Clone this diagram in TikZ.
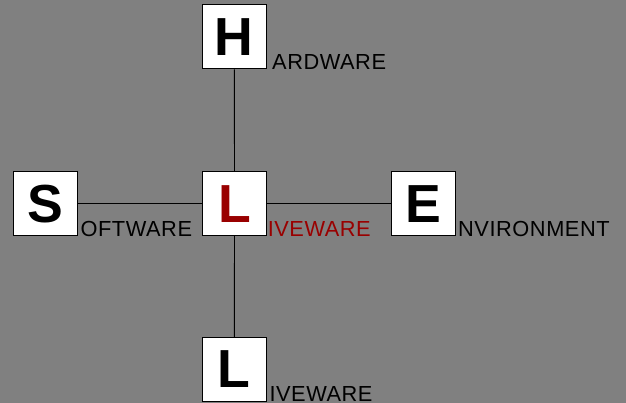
\documentclass[tikz,border=0pt]{standalone}
\usepackage{fontspec}
\setmainfont{Liberation Sans}
\newfontfamily\wordfont[LetterSpace=2.5]{Liberation Sans}
\definecolor{bg}{RGB}{128,128,128}
\definecolor{lred}{RGB}{153,0,0}
\tikzset{
  letterbox/.style={draw=black, line width=1pt, fill=white, minimum width=64pt, minimum height=64pt, inner sep=0pt, font=\fontsize{53.6pt}{54pt}\selectfont\bfseries},
  wordlabel/.style={anchor=base west, inner sep=0pt, font=\wordfont\fontsize{21.8pt}{23pt}\selectfont},
  link/.style={draw=black, line width=0.9pt}
}
\begin{document}
\begin{tikzpicture}[x=1pt,y=-1pt]
\fill[bg] (0,0) rectangle (626,403);
\useasboundingbox (0,0) rectangle (626,403);
\node[letterbox] (H) at (234.3,37) {H};
\node[letterbox, text=lred] (L) at (234.5,203.7) {L};
\node[letterbox] (S) at (45.3,203.7) {S};
\node[letterbox] (E) at (423.3,203.7) {E};
\node[letterbox] (L2) at (234.3,369.3) {L};
\draw[link] (H.south) -- (L.north);
\draw[link] (L.south) -- (L2.north);
\draw[link] (S.east) -- (L.west);
\draw[link] (L.east) -- (E.west);
\node[wordlabel] (Ht) at ([xshift=5.2pt]H.south east) {ARDWARE};
\node[wordlabel] (St) at ([xshift=2.6pt]S.south east) {OFTWARE};
\node[wordlabel, text=lred] (Lt) at ([xshift=0.6pt]L.south east) {IVEWARE};
\node[wordlabel] (Et) at ([xshift=2.2pt]E.south east) {NVIRONMENT};
\node[wordlabel] (L2t) at ([xshift=2.5pt]L2.south east) {IVEWARE};
\end{tikzpicture}
\end{document}
